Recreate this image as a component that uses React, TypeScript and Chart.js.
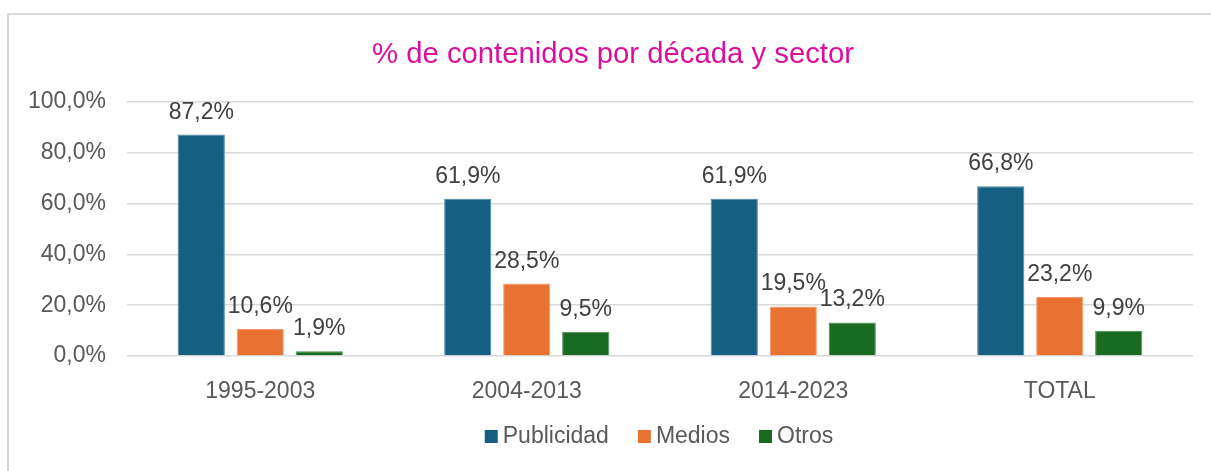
import React, { useEffect, useRef } from "react";
import { Chart, registerables } from "chart.js";

Chart.register(...registerables);

const categories = ["1995-2003", "2004-2013", "2014-2023", "TOTAL"];
const publicidad = [87.2, 61.9, 61.9, 66.8];
const medios = [10.6, 28.5, 19.5, 23.2];
const otros = [1.9, 9.5, 13.2, 9.9];
const seriesNames = ["Publicidad", "Medios", "Otros"];
const seriesColors = ["#156082", "#E97132", "#196B24"];
const seriesEdges = ["#4A86A3", "#F09A6C", "#4C8A55"];
const titleText = "% de contenidos por década y sector";

const FONT = "'Liberation Sans', Arial, sans-serif";
const fmt = (v: number) => v.toFixed(1).replace(".", ",") + "%";

const titlePlugin = {
  id: "customTitle",
  afterDraw(chart: any) {
    const ctx = chart.ctx;
    ctx.save();
    ctx.font = `29.3px ${FONT}`;
    ctx.fillStyle = "#DB0F9C";
    ctx.textAlign = "center";
    ctx.textBaseline = "alphabetic";
    ctx.fillText(titleText, chart.width / 2, 63);
    ctx.restore();
  },
};

const dataLabelPlugin = {
  id: "dataLabels",
  afterDatasetsDraw(chart: any) {
    const ctx = chart.ctx;
    ctx.save();
    ctx.font = `23px ${FONT}`;
    ctx.fillStyle = "#404040";
    ctx.textAlign = "center";
    ctx.textBaseline = "alphabetic";
    chart.data.datasets.forEach((ds: any, di: number) => {
      const meta = chart.getDatasetMeta(di);
      meta.data.forEach((el: any, i: number) => {
        ctx.fillText(fmt(ds.data[i]), el.x, el.y - 16);
      });
    });
    ctx.restore();
  },
};

const legendPlugin = {
  id: "customLegend",
  afterDraw(chart: any) {
    const ctx = chart.ctx;
    ctx.save();
    ctx.font = `23px ${FONT}`;
    ctx.textBaseline = "alphabetic";
    ctx.textAlign = "left";
    const box = 13;
    const gapBoxText = 5;
    const gapItems = 29;
    const items = chart.data.datasets.map((ds: any) => ({
      label: ds.label,
      color: ds.backgroundColor,
      w: box + gapBoxText + ctx.measureText(ds.label).width,
    }));
    const total = items.reduce((s: number, it: any) => s + it.w, 0) + gapItems * (items.length - 1);
    const centerX = (chart.chartArea.left + chart.chartArea.right) / 2 - 1;
    let x = centerX - total / 2;
    const boxTop = chart.height - 41;
    const baseline = chart.height - 28;
    items.forEach((it: any) => {
      ctx.fillStyle = it.color;
      ctx.fillRect(x, boxTop, box, box);
      ctx.fillStyle = "#595959";
      ctx.fillText(it.label, x + box + gapBoxText, baseline);
      x += it.w + gapItems;
    });
    ctx.restore();
  },
};

export default function App() {
  const ref = useRef<HTMLCanvasElement | null>(null);

  useEffect(() => {
    if (!ref.current) return;
    const values = [publicidad, medios, otros];
    const chart = new Chart(ref.current, {
      type: "bar",
      data: {
        labels: categories,
        datasets: seriesNames.map((name, i) => ({
          label: name,
          data: values[i],
          backgroundColor: seriesColors[i],
          borderColor: seriesEdges[i],
          borderWidth: 1,
          barPercentage: 0.8,
          categoryPercentage: 0.664,
        })),
      },
      options: {
        animation: false,
        responsive: false,
        maintainAspectRatio: false,
        layout: { padding: { left: 0, right: 26, top: 102, bottom: 55 } },
        plugins: {
          legend: { display: false },
          tooltip: { enabled: false },
          title: { display: false },
        },
        scales: {
          x: {
            grid: { display: false },
            border: { display: false },
            ticks: {
              color: "#595959",
              font: { family: FONT, size: 23 },
              padding: 14,
              maxRotation: 0,
            },
            afterFit(scale: any) {
              scale.height = 60;
            },
          },
          y: {
            min: 0,
            max: 100,
            border: { display: false },
            grid: { color: "#D9D9D9", lineWidth: 1.5, drawTicks: false },
            ticks: {
              stepSize: 20,
              color: "#595959",
              font: { family: FONT, size: 23 },
              padding: 21,
              callback: (v: any) => fmt(Number(v)),
            },
            afterFit(scale: any) {
              scale.width = 120;
            },
          },
        },
      },
      plugins: [titlePlugin, dataLabelPlugin, legendPlugin],
    });
    return () => chart.destroy();
  }, []);

  return (
    <>
      <div
        style={{
          position: "fixed",
          left: 7,
          top: 13,
          width: 1220,
          height: 470,
          borderTop: "2px solid #D9D9D9",
          borderLeft: "2px solid #D9D9D9",
          boxSizing: "border-box",
          background: "#fff",
        }}
      />
      <canvas
        ref={ref}
        width={1212}
        height={471}
        style={{ position: "fixed", left: 7, top: 0, width: 1212, height: 471 }}
      />
    </>
  );
}
